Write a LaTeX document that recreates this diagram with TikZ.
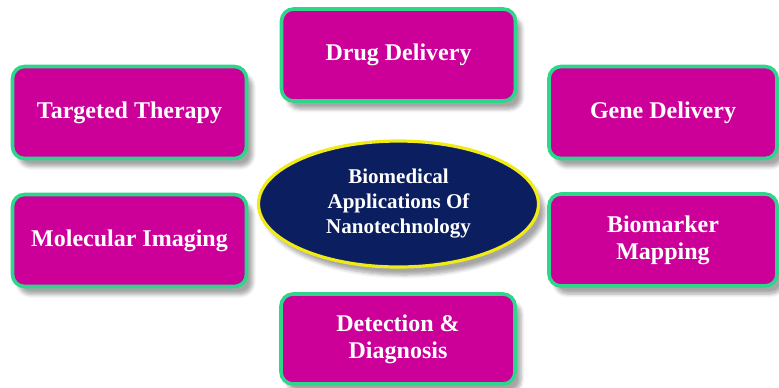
\documentclass[tikz,border=0pt]{standalone}
\usepackage{fontspec}
\setmainfont{Liberation Serif}
\usetikzlibrary{shadows.blur}
\definecolor{boxfill}{RGB}{204,0,153}
\definecolor{boxline}{RGB}{46,214,140}
\definecolor{hubfill}{RGB}{10,30,96}
\definecolor{hubline}{RGB}{240,235,20}
\tikzset{
	appbox/.style={draw=boxline,line width=1.8pt,fill=boxfill,rounded corners=6pt,
		text=white,align=center,font=\bfseries\fontsize{12}{13.5}\selectfont,
		blur shadow={shadow xshift=3pt,shadow yshift=-4pt,shadow blur steps=6,shadow opacity=35}},
	hub/.style={ellipse,draw=hubline,line width=1.6pt,fill=hubfill,
		text=white,align=center,font=\bfseries\fontsize{10.5}{12.5}\selectfont,
		blur shadow={shadow xshift=3pt,shadow yshift=-4pt,shadow blur steps=6,shadow opacity=35}}
}
\usetikzlibrary{shapes.geometric}
\begin{document}
\begin{tikzpicture}[x=0.5pt,y=-0.5pt]
	\useasboundingbox (0,0) rectangle (779,387);
	\node[hub,minimum width=140pt,minimum height=63pt,inner sep=0pt](hub) at (398.5,204){Biomedical\\Applications Of\\Nanotechnology};
	\node[appbox,minimum width=117pt,minimum height=46pt](drug) at (398.5,55){Drug Delivery};
	\node[appbox,minimum width=117pt,minimum height=46pt](target) at (129.5,112.5){Targeted Therapy};
	\node[appbox,minimum width=114pt,minimum height=46pt](gene) at (663,112.5){Gene Delivery};
	\node[appbox,minimum width=117pt,minimum height=46pt](imaging) at (129.5,240.5){Molecular Imaging};
	\node[appbox,minimum width=114pt,minimum height=46pt](marker) at (663,240){Biomarker\\Mapping};
	\node[appbox,minimum width=117pt,minimum height=45pt](detect) at (398,339){Detection \&\\Diagnosis};
\end{tikzpicture}
\end{document}
